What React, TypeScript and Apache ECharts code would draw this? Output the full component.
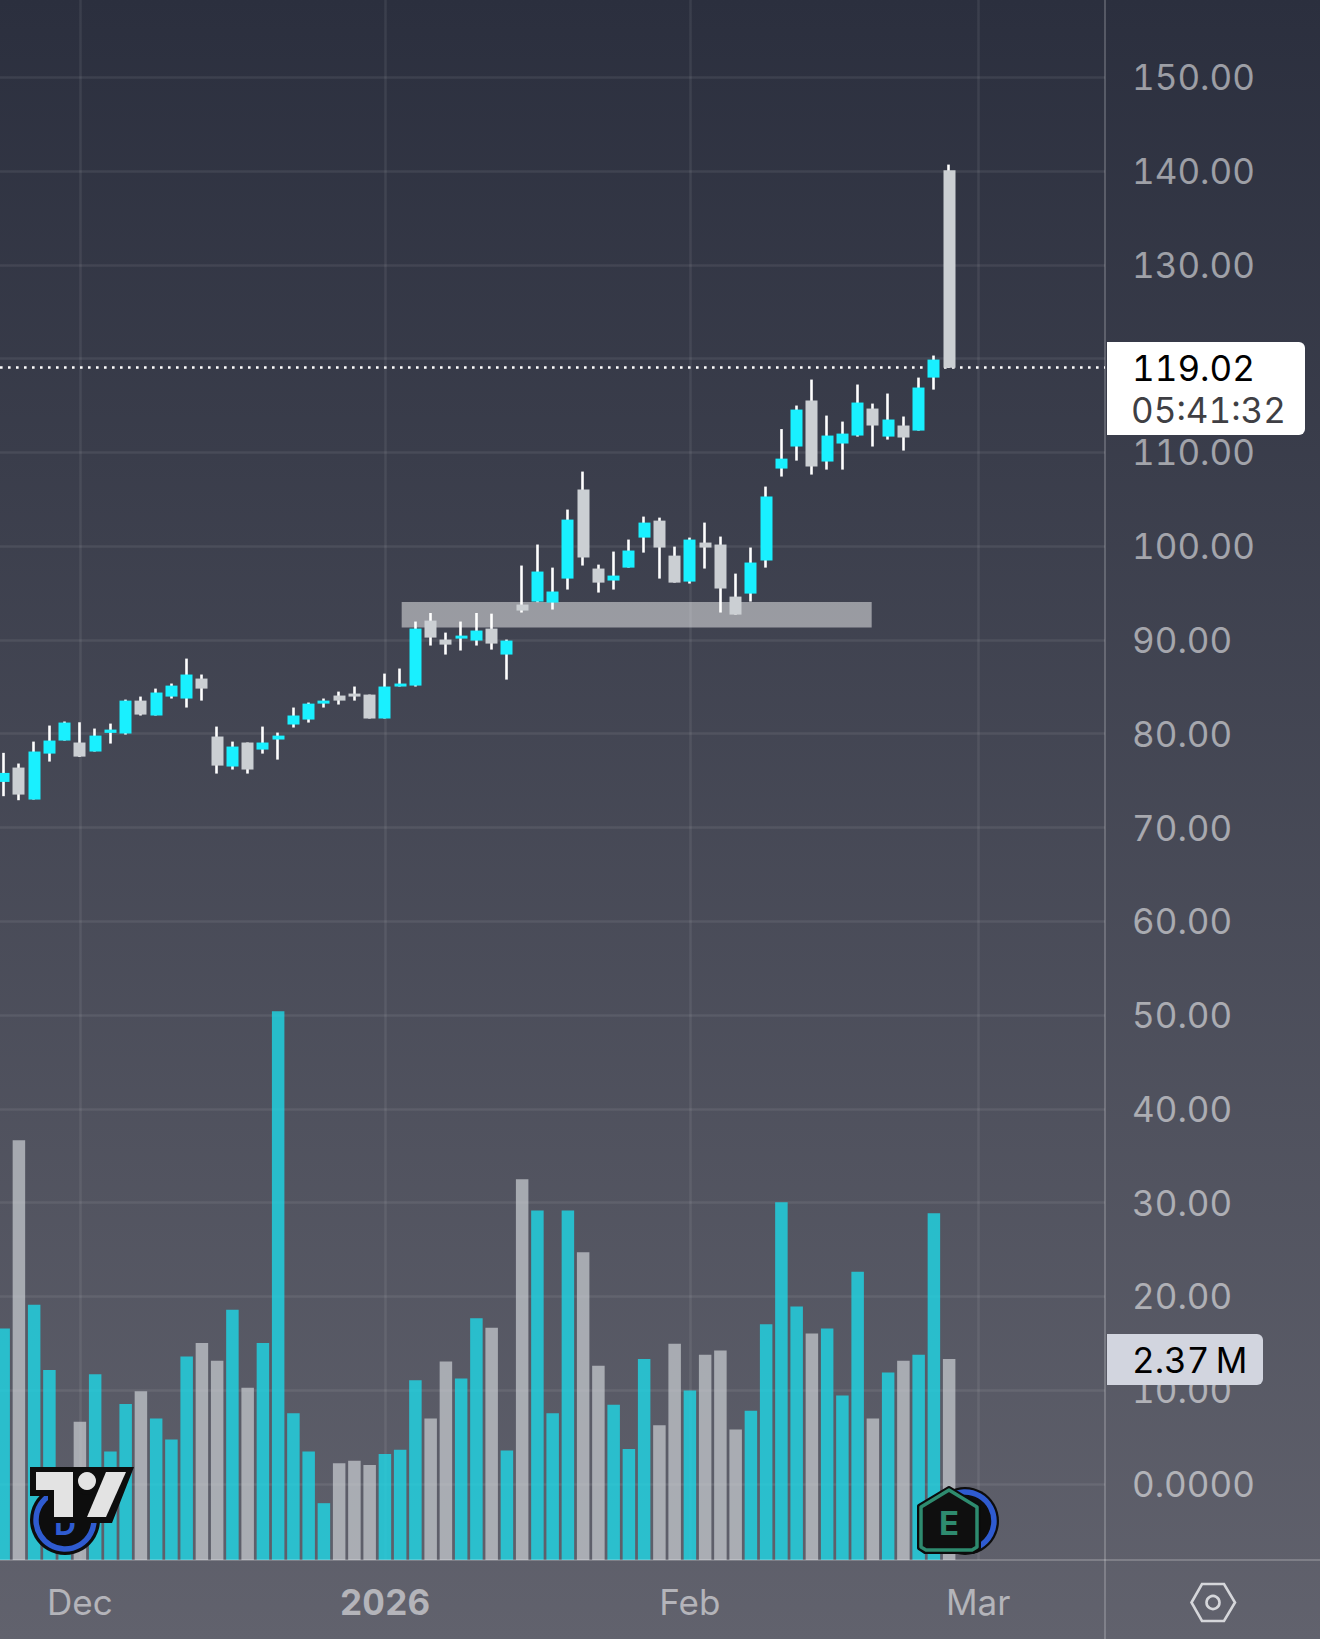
import React, { useEffect, useRef } from "react";
import * as echarts from "echarts";

// Session index (0 = left-most visible session), prices in USD, volume in millions.
const opens = [74.86,76.39,72.98,77.88,79.27,79.06,78.10,80.09,80.02,83.53,81.94,83.96,83.75,85.88,79.70,76.50,79.06,78.31,79.38,80.98,81.51,83.21,84.07,84.28,84.17,81.62,85.03,85.13,92.06,90.04,90.14,89.93,91.21,88.44,93.77,94.09,93.98,96.54,106.03,97.61,96.33,97.71,100.91,102.72,98.99,96.22,100.38,100.17,94.62,94.94,98.46,108.27,110.62,115.52,109.02,110.94,111.79,114.67,111.68,112.86,112.32,117.97,140.08];
const closes = [75.82,73.51,78.10,79.27,81.19,77.56,79.80,80.44,83.53,82.04,84.39,85.13,86.31,84.81,76.60,78.63,76.18,79.06,79.80,81.94,83.21,83.53,83.53,83.96,81.62,85.03,85.35,91.21,90.25,89.50,90.46,91.00,89.61,89.93,93.13,97.29,95.16,102.83,98.78,96.11,96.86,99.53,102.51,99.85,96.11,100.70,99.85,95.48,92.70,98.25,105.28,109.33,114.56,108.48,111.79,112.00,115.31,112.86,113.50,111.58,116.91,119.89,119.02];
const lows = [73.34,72.91,72.98,77.03,79.27,77.53,78.10,78.95,79.91,81.94,81.94,83.75,82.79,83.53,75.75,76.18,75.75,77.88,77.24,80.66,81.19,82.79,83.11,83.53,81.62,81.62,85.03,85.03,89.40,88.44,88.87,89.40,88.97,85.77,92.92,94.02,93.24,95.37,97.93,95.05,95.37,97.71,99.31,96.54,96.11,96.01,97.61,92.92,92.70,94.09,97.71,107.42,109.12,107.63,108.16,108.16,111.68,110.62,111.36,110.19,112.32,116.69,119.00];
const highs = [77.96,76.82,79.16,80.87,81.30,81.22,80.55,81.08,83.64,83.96,84.81,85.35,88.01,86.31,80.76,79.16,79.06,80.76,80.12,82.79,83.32,83.75,84.49,85.03,84.17,86.41,86.95,91.96,92.87,90.78,91.96,92.87,92.80,90.04,97.93,100.17,97.71,103.90,107.95,98.03,99.42,100.70,103.15,103.04,99.95,100.91,102.51,101.02,97.07,99.85,106.35,112.48,114.99,117.76,113.92,113.28,117.23,115.20,116.27,113.82,117.97,120.32,140.68];
const volumes = [2.73,4.95,3.01,2.24,0.92,1.63,2.19,1.28,1.84,1.99,1.67,1.42,2.40,2.56,2.35,2.95,2.03,2.56,6.47,1.73,1.28,0.67,1.14,1.17,1.12,1.25,1.30,2.12,1.67,2.34,2.14,2.85,2.74,1.29,4.49,4.12,1.73,4.12,3.63,2.29,1.83,1.31,2.37,1.59,2.55,2.00,2.42,2.47,1.54,1.76,2.78,4.22,2.99,2.67,2.73,1.94,3.40,1.67,2.21,2.35,2.42,4.09,2.37];

const priceTicks = [0,10,20,30,40,50,60,70,80,90,100,110,120,130,140,150];
const monthTicks = [5,25,45,63.9];
const monthLabels = ["Dec","2026","Feb","Mar"];
const lastPrice = 119.02;
const zone = { fromIndex: 26.1, toIndex: 56.92, top: 94.05, bottom: 91.33 };

const UP = "#19F0FF";
const DOWN = "#CBCFD3";
const VOL_UP = "rgba(30,215,230,0.8)";
const VOL_DOWN = "rgba(203,207,211,0.7)";
const GRID = "rgba(255,255,255,0.075)";
const AXIS_TEXT = "rgba(255,255,255,0.53)";
const FONT = "Inter";
const SIZE = 35;
const WEIGHT = 400;

const wickData = opens.map((o, i) => [i, o, closes[i], lows[i], highs[i]]);
const bodyData = opens.map((o, i) => [i, o, closes[i], Math.min(o, closes[i]), Math.max(o, closes[i])]);
const volumeData = volumes.map((v, i) => [i, v]);

const sep = "rgba(255,255,255,0.2)";
const g = (o: any) => ({ silent: true, z: 100, ...o });
const tagText = { fontFamily: FONT, fontSize: SIZE, fontWeight: WEIGHT, verticalAlign: "middle" };

const graphics: any[] = [
  g({ type: "line", shape: { x1: 1105, y1: 0, x2: 1105, y2: 1639 }, style: { stroke: sep, lineWidth: 2 } }),
  g({ type: "line", shape: { x1: 0, y1: 1560, x2: 1320, y2: 1560 }, style: { stroke: sep, lineWidth: 2 } }),
  // last price tag
  g({ type: "rect", shape: { x: 1107, y: 342, width: 198, height: 93, r: [0, 6, 6, 0] }, style: { fill: "#ffffff" } }),
  g({ type: "text", x: 1132, y: 368, z: 101, style: { text: "119.02", fill: "#000000", ...tagText } }),
  g({ type: "text", x: 1131, y: 410, z: 101, style: { text: "05:41:32", fill: "#3f3f44", ...tagText } }),
  // volume tag
  g({ type: "rect", shape: { x: 1107, y: 1334, width: 156, height: 51, r: [0, 6, 6, 0] }, style: { fill: "#D2D5DF" } }),
  g({ type: "text", x: 1132, y: 1360, z: 101, style: { text: "2.37\u2009M", fill: "#000000", ...tagText } }),
  // dividend badge (left)
  g({ type: "circle", shape: { cx: 65, cy: 1520, r: 35 }, style: { fill: "#0d0d0d" } }),
  g({ type: "circle", shape: { cx: 65, cy: 1520, r: 29 }, style: { fill: "none", stroke: "#2F5BD0", lineWidth: 5.5 } }),
  g({ type: "text", x: 65, y: 1524, z: 101, style: { text: "D", fill: "#2F5BD0", fontFamily: FONT, fontSize: 30, fontWeight: 700, align: "center", verticalAlign: "middle" } }),
  // TradingView logo
  g({ type: "polygon", z: 102, shape: { points: [[30,1467],[134,1467],[112,1523],[48,1523],[48,1496],[30,1496]] }, style: { fill: "#0d0d0d" } }),
  g({ type: "circle", z: 102, shape: { cx: 87, cy: 1481, r: 14 }, style: { fill: "#0d0d0d" } }),
  g({ type: "polygon", z: 103, shape: { points: [[36,1472],[73,1472],[73,1517],[54,1517],[54,1490],[36,1490]] }, style: { fill: "#E3E3E3" } }),
  g({ type: "circle", z: 103, shape: { cx: 87, cy: 1481, r: 9 }, style: { fill: "#E3E3E3" } }),
  g({ type: "polygon", z: 103, shape: { points: [[106,1472],[126,1472],[106,1517],[87,1517]] }, style: { fill: "#E3E3E3" } }),
  // dividend and earnings badges (right)
  g({ type: "circle", shape: { cx: 965, cy: 1521, r: 34 }, style: { fill: "#0d0d0d" } }),
  g({ type: "circle", shape: { cx: 965, cy: 1521, r: 29 }, style: { fill: "none", stroke: "#2F5BD0", lineWidth: 5.5 } }),
  g({ type: "polygon", z: 102, shape: { points: [[949,1488],[979,1506],[979,1548],[973,1552],[925,1552],[919,1548],[919,1506]] }, style: { fill: "#0f0f0f", stroke: "#0b0b0b", lineWidth: 4, lineJoin: "round" } }),
  g({ type: "polygon", z: 103, shape: { points: [[949,1490],[977,1507],[977,1547],[972,1550],[926,1550],[921,1547],[921,1507]] }, style: { fill: "#0f0f0f", stroke: "#2E8B6F", lineWidth: 3.5, lineJoin: "round" } }),
  g({ type: "text", x: 949, y: 1523, z: 104, style: { text: "E", fill: "#2E8B6F", fontFamily: FONT, fontSize: 33, fontWeight: 700, align: "center", verticalAlign: "middle" } }),
  // settings icon
  g({ type: "polygon", shape: { points: [[1191.5,1602.5],[1202,1584],[1224,1584],[1235,1602.5],[1224,1621],[1202,1621]] }, style: { fill: "none", stroke: "#D5D6DA", lineWidth: 2.6 } }),
  g({ type: "circle", shape: { cx: 1213, cy: 1602.5, r: 6.5 }, style: { fill: "none", stroke: "#D5D6DA", lineWidth: 2.6 } }),
];

export default function App() {
  const ref = useRef<HTMLDivElement>(null);
  useEffect(() => {
    document.body.style.margin = "0";
    const chart = echarts.init(ref.current!, undefined, { renderer: "svg" });
    chart.setOption({
      animation: false,
      grid: { left: 0, right: 215, top: 0, bottom: 79, containLabel: false },
      xAxis: {
        type: "value",
        min: -0.24,
        max: 72.22,
        axisLine: { show: false },
        axisTick: { show: false, customValues: monthTicks },
        splitLine: { show: true, lineStyle: { color: GRID, width: 2.5 } },
        axisLabel: {
          customValues: monthTicks,
          margin: 24,
          color: AXIS_TEXT,
          fontFamily: FONT,
          fontWeight: WEIGHT,
          fontSize: SIZE,
          formatter: (v: number) => {
            const s = monthLabels[monthTicks.indexOf(v)] ?? "";
            return s === "2026" ? `{b|${s}}` : s;
          },
          rich: { b: { fontFamily: FONT, fontSize: SIZE, fontWeight: 700, color: AXIS_TEXT } },
        },
      },
      yAxis: [
        {
          type: "value",
          position: "right",
          min: -8.1,
          max: 158.23,
          axisLine: { show: false },
          axisTick: { show: false, customValues: priceTicks },
          splitLine: { show: true, lineStyle: { color: GRID, width: 2.5 } },
          axisLabel: {
            customValues: priceTicks,
            margin: 27,
            align: "left",
            color: AXIS_TEXT,
            fontFamily: FONT,
            fontWeight: WEIGHT,
            fontSize: SIZE,
            formatter: (v: number) => (v === 0 ? "0.0000" : v.toFixed(2)),
          },
        },
        { type: "value", show: false, min: 0, max: 18.396, splitLine: { show: false } },
      ],
      series: [
        {
          type: "bar",
          xAxisIndex: 0,
          yAxisIndex: 1,
          z: 2,
          barWidth: 12.5,
          data: volumeData,
          itemStyle: { color: (p: any) => (closes[p.dataIndex] >= opens[p.dataIndex] ? VOL_UP : VOL_DOWN) },
        },
        {
          type: "candlestick",
          xAxisIndex: 0,
          yAxisIndex: 0,
          z: 3,
          barWidth: 1,
          data: wickData,
          itemStyle: { color: "#fff", color0: "#fff", borderColor: "#fff", borderColor0: "#fff", borderWidth: 2.6 },
          markArea: {
            silent: true,
            z: 1,
            itemStyle: { color: "rgba(255,255,255,0.47)" },
            data: [[{ xAxis: zone.fromIndex, yAxis: zone.top }, { xAxis: zone.toIndex, yAxis: zone.bottom }]],
          },
          markLine: {
            silent: true,
            z: 1,
            symbol: "none",
            label: { show: false },
            lineStyle: { color: "#ffffff", width: 2.6, type: [2.6, 5.4], opacity: 1 },
            data: [{ yAxis: lastPrice }],
          },
        },
        {
          type: "candlestick",
          xAxisIndex: 0,
          yAxisIndex: 0,
          z: 4,
          barWidth: 12.5,
          data: bodyData,
          itemStyle: { color: UP, color0: DOWN, borderColor: UP, borderColor0: DOWN, borderWidth: 0 },
        },
      ],
      graphic: { elements: graphics },
    });
    return () => chart.dispose();
  }, []);
  return (
    <div
      ref={ref}
      style={{
        position: "fixed",
        left: 0,
        top: 0,
        width: 1320,
        height: 1639,
        fontFeatureSettings: '"tnum"',
        background: "linear-gradient(180deg, #2b2f3e 0%, #61626d 100%)",
      }}
    />
  );
}
